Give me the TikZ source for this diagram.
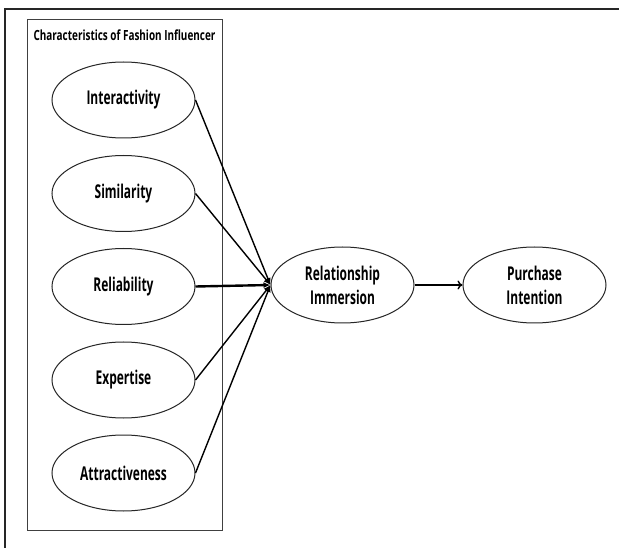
\documentclass[tikz,border=0pt]{standalone}
\usepackage{fontspec}
\setmainfont{Open Sans}[FakeStretch=0.8]
\newfontfamily\ovalfont{Open Sans}[FakeStretch=0.63]
\newfontfamily\titlefont{Open Sans}[FakeStretch=0.71]
\usetikzlibrary{shapes.geometric,arrows.meta}
\begin{document}
\begin{tikzpicture}[x=1pt,y=-1pt,
  oval/.style={draw=black!85,line width=1pt,ellipse,minimum width=143pt,minimum height=76pt,inner sep=0pt,align=center,
    font=\ovalfont\fontsize{19}{24}\selectfont\bfseries},
  link/.style={line width=1.4pt,-{Latex[length=7pt,width=6pt]}},
]
\useasboundingbox (0,0) rectangle (619,548);
\fill[white] (0,0) rectangle (619,548);
% outer frame (only top and left visible)
\draw[line width=2pt,black!85] (5,548) -- (5,9) -- (619,9);
% group box
\draw[line width=1pt,black!75] (27,20) rectangle (222,530);
\node[font=\titlefont\fontsize{14}{16}\selectfont\bfseries] (title) at (124.5,35) {Characteristics of Fashion Influencer};
\node[oval] (inter) at (123.5,100) {Interactivity};
\node[oval] (sim) at (123.5,193.5) {Similarity};
\node[oval] (rel) at (123.5,286.5) {Reliability};
\node[oval] (exp) at (123.5,380) {Expertise};
\node[oval] (att) at (123.5,473) {Attractiveness};
\node[oval] (ri) at (342.5,285) {Relationship\\Immersion};
\node[oval] (pi) at (534.5,285) {Purchase\\Intention};
\draw[link] (inter.east) -- (ri.west);
\draw[link] (sim.east) -- (ri.west);
\draw[link,line width=2.4pt] (rel.east) -- (ri.west);
\draw[link] (exp.east) -- (ri.west);
\draw[link] (att.east) -- (ri.west);
\draw[line width=1.4pt,-{To[length=5pt,width=9pt]}] (ri.east) -- (pi.west);
\end{tikzpicture}
\end{document}
